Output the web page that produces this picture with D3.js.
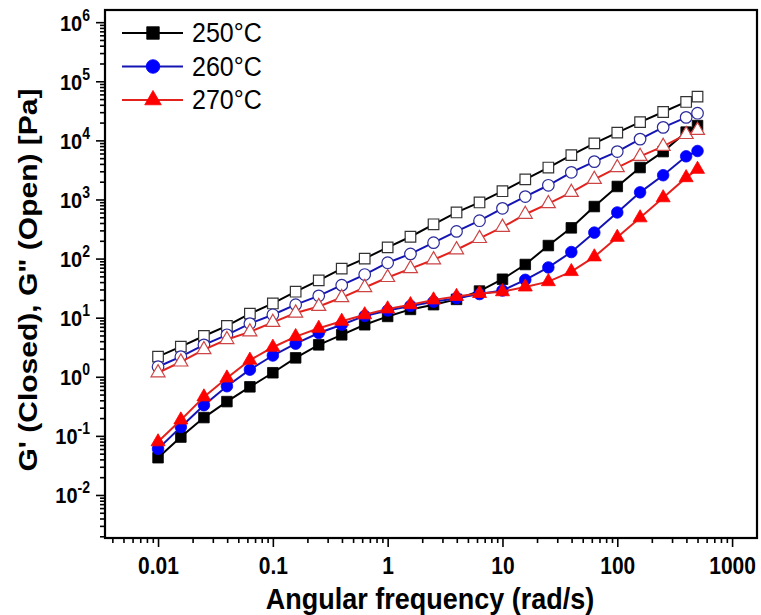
<!DOCTYPE html>
<html>
<head>
<meta charset="utf-8">
<script src="https://cdn.jsdelivr.net/npm/d3@7"></script>
<style>
  body { margin: 0; background: #fff; }
  svg { display: block; font-family: 'Liberation Sans', Arial, sans-serif; }
</style>
</head>
<body>
<svg></svg>
<script>
// angular frequency (rad/s)
const freq = [0.01, 0.0158, 0.0251, 0.0398, 0.0631, 0.1, 0.158, 0.251, 0.398, 0.631,
  1, 1.58, 2.51, 3.98, 6.31, 10, 15.8, 25.1, 39.8, 63.1, 100, 158, 251, 398, 500];

// G' (closed symbols)
const closed250 = [0.0427, 0.0955, 0.204, 0.38, 0.676, 1.17, 2.09, 3.47, 5.13, 7.59,
  10.5, 13.8, 16.6, 20.4, 28.2, 44.7, 79.4, 166, 331, 759, 1660, 3470, 6460, 13800, 17800];
const closed260 = [0.0603, 0.141, 0.331, 0.692, 1.32, 2.29, 3.63, 5.5, 7.59, 10.7,
  13.2, 15.8, 18.6, 21.4, 25.1, 28.8, 43.7, 70.8, 129, 275, 603, 1320, 2570, 5370, 6610];
const closed270 = [0.0794, 0.186, 0.457, 0.955, 1.91, 3.16, 4.79, 6.61, 8.71, 11.2,
  14.1, 16.6, 20, 22.9, 25.7, 27.5, 33.1, 40.7, 60.3, 107, 229, 490, 1070, 2340, 3240];

// G'' (open symbols)
const open250 = [2.19, 3.24, 4.9, 7.24, 11.7, 17.4, 27.5, 42.7, 67.6, 100,
  155, 234, 380, 603, 891, 1380, 2190, 3470, 5620, 8910, 13500, 20400, 30200, 44700, 55000];
const open260 = [1.48, 2.19, 3.47, 5.13, 7.94, 11.2, 16.6, 23.4, 35.5, 53.7,
  85.1, 120, 186, 288, 437, 708, 1120, 1740, 2880, 4370, 6460, 10500, 16600, 24500, 28800];
const open270 = [1.17, 1.78, 2.88, 4.27, 5.75, 8.32, 12, 15.5, 21.9, 32.4,
  47.9, 67.6, 95.5, 141, 219, 339, 562, 851, 1320, 2190, 3470, 5370, 7940, 12600, 14800];

const labels = ['250°C', '260°C', '270°C'];
const xTicks = [0.01, 0.1, 1, 10, 100, 1000];
const yTicks = [1e-2, 1e-1, 1e0, 1e1, 1e2, 1e3, 1e4, 1e5, 1e6];

const width = 761;
const height = 615;
const plotLeft = 105, plotRight = 757, plotTop = 10, plotBottom = 538;

const svg = d3.select('svg').attr('width', width).attr('height', height);

const xScale = d3.scaleLog()
  .domain([Math.pow(10, -2.462), Math.pow(10, 3.217)])
  .range([plotLeft, plotRight]);

const yScale = d3.scaleLog()
  .domain([Math.pow(10, -2.728), Math.pow(10, 6.206)])
  .range([plotBottom, plotTop]);

const series = [
  { label: labels[0], values: closed250, open: false, shape: d3.symbolSquare, size: 112, color: '#000000', line: '#000000', stroke: '#000000' },
  { label: labels[0], values: open250, open: true, shape: d3.symbolSquare, size: 112, color: '#000000', line: '#000000', stroke: '#333333' },
  { label: labels[1], values: closed260, open: false, shape: d3.symbolCircle, size: 105, color: '#0000ff', line: '#1414b4', stroke: '#0000ff' },
  { label: labels[1], values: open260, open: true, shape: d3.symbolCircle, size: 105, color: '#0000ff', line: '#1414b4', stroke: '#2a2a9a' },
  { label: labels[2], values: closed270, open: false, shape: d3.symbolTriangle, size: 85, color: '#ff0000', line: '#e3221e', stroke: '#ff0000' },
  { label: labels[2], values: open270, open: true, shape: d3.symbolTriangle, size: 85, color: '#ff0000', line: '#e3221e', stroke: '#cc4444' },
];

// minor ticks for log axes
const minorTicks = (scale) => {
  const [a, b] = scale.domain();
  const out = [];
  for (let e = Math.floor(Math.log10(a)); e <= Math.ceil(Math.log10(b)); e++) {
    for (let m = 2; m <= 9; m++) {
      const v = m * Math.pow(10, e);
      if (v >= a && v <= b) out.push(v);
    }
  }
  return out;
};

const generateAxes = () => {
  const xMinor = svg.append('g')
    .attr('transform', 'translate(0,' + plotBottom + ')')
    .call(d3.axisBottom(xScale).tickValues(minorTicks(xScale)).tickSize(5).tickFormat(''));
  const xMajor = svg.append('g')
    .attr('transform', 'translate(0,' + plotBottom + ')')
    .call(d3.axisBottom(xScale).tickValues(xTicks).tickSize(9).tickFormat(''));

  const yMinor = svg.append('g')
    .attr('transform', 'translate(' + plotLeft + ',0)')
    .call(d3.axisLeft(yScale).tickValues(minorTicks(yScale)).tickSize(5).tickFormat(''));
  const yMajor = svg.append('g')
    .attr('transform', 'translate(' + plotLeft + ',0)')
    .call(d3.axisLeft(yScale).tickValues(yTicks).tickSize(9).tickFormat(''));

  [xMinor, xMajor, yMinor, yMajor].forEach((g) => {
    g.select('.domain').remove();
    g.selectAll('line').attr('stroke', '#000').attr('stroke-width', 1.6);
  });

  // x labels, slightly stretched vertically like the source
  xMajor.selectAll('.tick')
    .append('text')
    .attr('transform', 'translate(0,36) scale(1,1.12)')
    .attr('text-anchor', 'middle')
    .attr('fill', '#000')
    .attr('font-size', 21)
    .attr('font-weight', 'bold')
    .text((d) => String(d));

  // y labels as 10^n
  const yLab = yMajor.selectAll('.tick')
    .append('text')
    .attr('transform', 'translate(-15,8) scale(1,1.12)')
    .attr('text-anchor', 'end')
    .attr('fill', '#000')
    .attr('font-weight', 'bold')
    .attr('font-size', 20);
  yLab.append('tspan').text('10');
  yLab.append('tspan')
    .attr('font-size', 14)
    .attr('dy', -9)
    .text((d) => Math.round(Math.log10(d)));

  svg.append('rect')
    .attr('x', plotLeft)
    .attr('y', plotTop)
    .attr('width', plotRight - plotLeft)
    .attr('height', plotBottom - plotTop)
    .attr('fill', 'none')
    .attr('stroke', '#000')
    .attr('stroke-width', 2.2);

  svg.append('text')
    .attr('transform', 'translate(430,609) scale(1,1.1)')
    .attr('text-anchor', 'middle')
    .attr('font-size', 27)
    .attr('font-weight', 'bold')
    .text('Angular frequency (rad/s)');

  svg.append('text')
    .attr('transform', 'translate(37,280) rotate(-90) scale(1.2,1)')
    .attr('text-anchor', 'middle')
    .attr('font-size', 25)
    .attr('font-weight', 'bold')
    .text('G\' (Closed), G" (Open) [Pa]');
};

const generateSeries = () => {
  const line = d3.line()
    .x((d, i) => xScale(freq[i]))
    .y((d) => yScale(d));

  series.forEach((s) => {
    const g = svg.append('g');
    g.append('path')
      .datum(s.values)
      .attr('d', line)
      .attr('fill', 'none')
      .attr('stroke', s.line)
      .attr('stroke-width', 2);

    g.selectAll('path.pt')
      .data(s.values)
      .enter()
      .append('path')
      .attr('class', 'pt')
      .attr('d', d3.symbol(s.shape, s.size))
      .attr('transform', (d, i) => 'translate(' + xScale(freq[i]) + ',' + yScale(d) + ')')
      .attr('fill', s.open ? '#fff' : s.color)
      .attr('stroke', s.stroke)
      .attr('stroke-width', s.open ? 1.2 : 0.8);
  });
};

const generateLegend = () => {
  const legendItems = series.filter((s) => !s.open);
  const legend = svg.append('g');
  const item = legend.selectAll('g')
    .data(legendItems)
    .enter()
    .append('g')
    .attr('transform', (d, i) => 'translate(0,' + (33 + i * 33.5) + ')');

  item.append('line')
    .attr('x1', 122)
    .attr('x2', 183)
    .attr('stroke', (d) => d.line)
    .attr('stroke-width', 2);

  item.append('path')
    .attr('d', (d) => d3.symbol(d.shape, d.size * 1.4)())
    .attr('transform', 'translate(153,0)')
    .attr('fill', (d) => d.color)
    .attr('stroke', (d) => d.stroke)
    .attr('stroke-width', 0.8);

  item.append('text')
    .attr('transform', 'translate(192,9) scale(1,1.08)')
    .attr('font-size', 25)
    .attr('fill', '#000')
    .text((d) => d.label);
};

generateAxes();
generateSeries();
generateLegend();
</script>
</body>
</html>
